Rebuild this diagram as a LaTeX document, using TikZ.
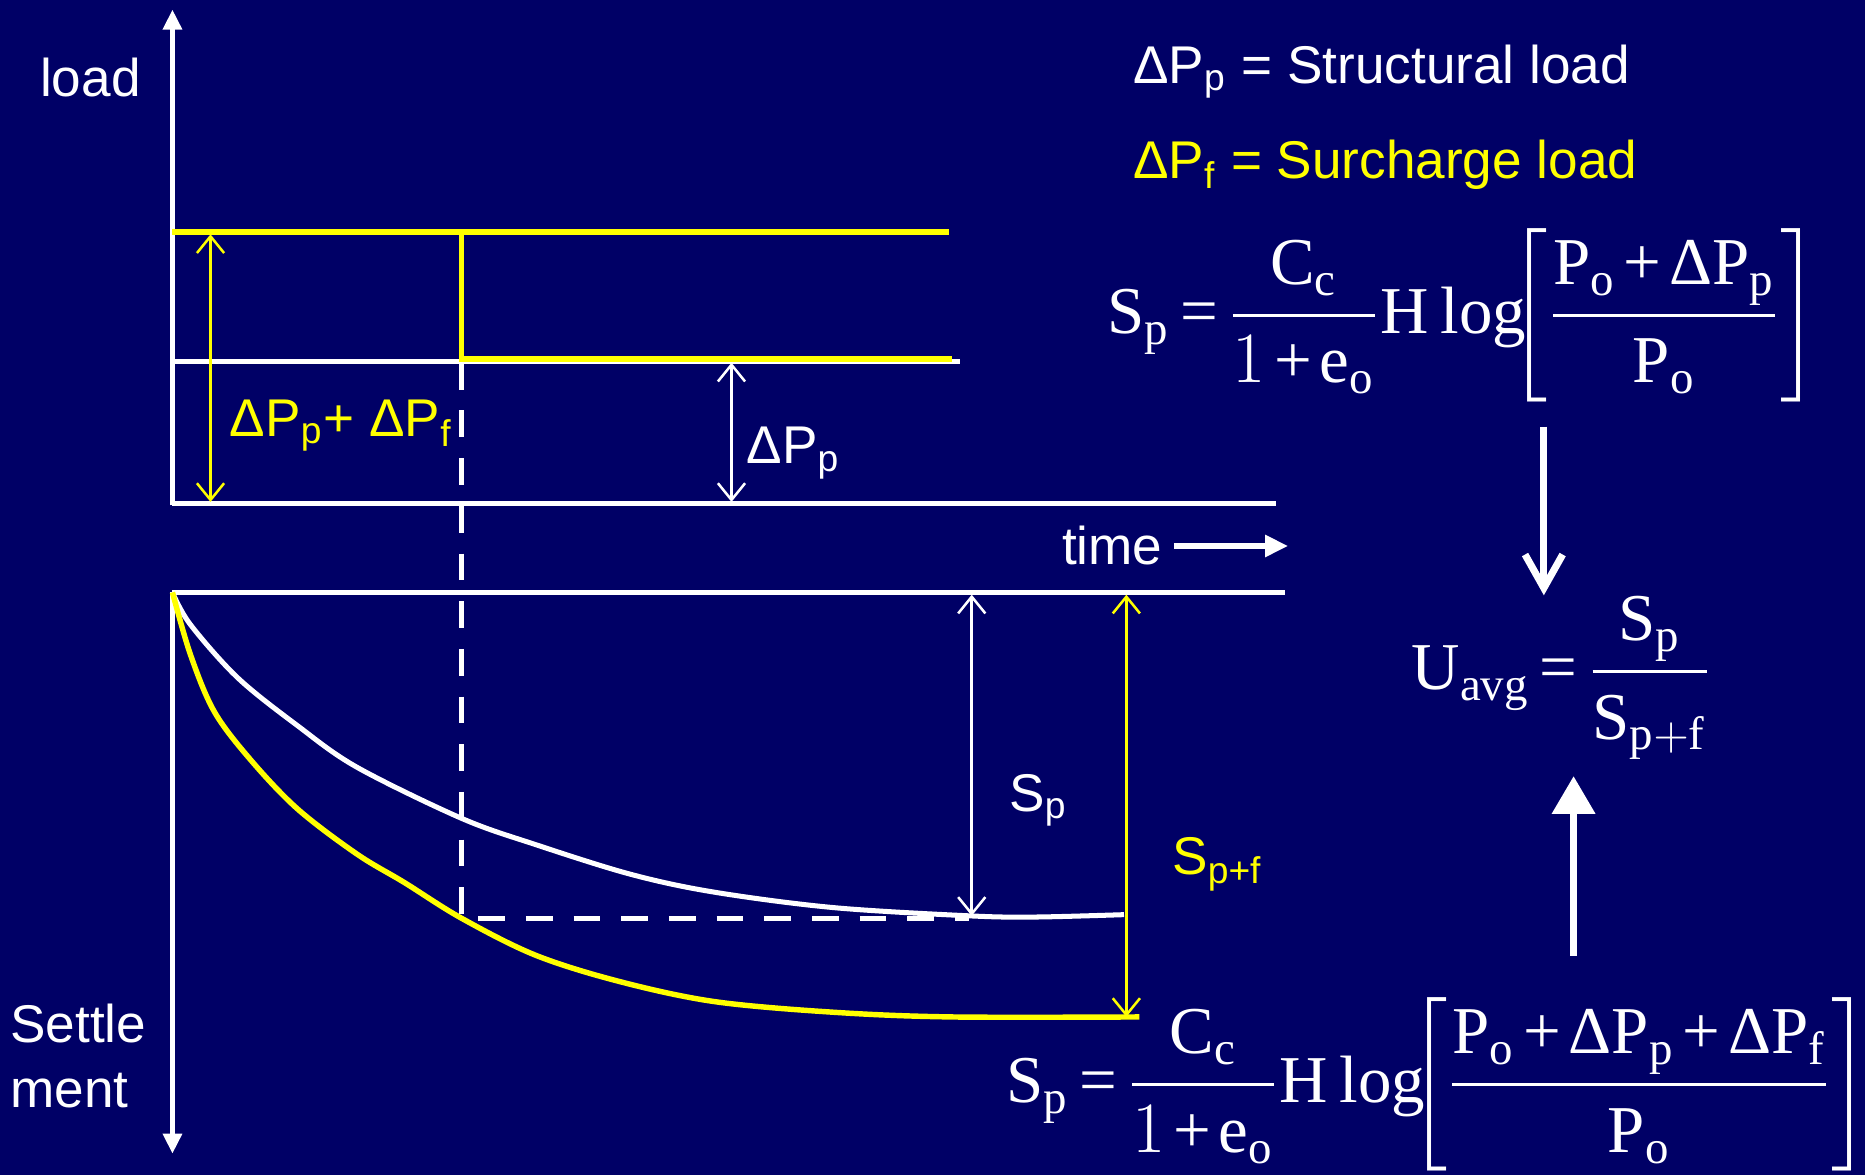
\documentclass[tikz,border=0pt]{standalone}
\usepackage{amsmath}
\usepackage{fontspec}
\setmainfont{Liberation Serif}
\setsansfont{Liberation Sans}
\usetikzlibrary{arrows.meta,positioning}
\definecolor{navy}{RGB}{0,0,102}
\definecolor{yel}{RGB}{255,255,0}
\tikzset{
  wline/.style={draw=white,line width=1.2pt},
  yline/.style={draw=yel,line width=1.3pt},
  axis/.style={wline,-{Triangle[length=4.8pt,width=4.4pt]}},
  dimarr/.style={line width=0.6pt,
    {Straight Barb[length=4pt,width=6.5pt]}-{Straight Barb[length=4pt,width=6.5pt]}},
  dashln/.style={wline,dash pattern=on 6.4pt off 5pt},
  % labels in Arial-like sans, formulas in Times-like serif
  lab/.style={font=\fontsize{12.7}{15.65}\selectfont\sffamily,text=white,inner sep=0pt},
  ylab/.style={lab,text=yel},
  eq/.style={font=\fontsize{16}{19}\selectfont,text=white,inner sep=0pt},
  timearr/.style={draw=white,line width=1.6pt,-{Triangle[length=5.5pt,width=5pt]}},
  downarr/.style={draw=white,line width=1.7pt,
    -{Straight Barb[length=8pt,width=9pt,line width=1.7pt]}},
  uparr/.style={draw=white,line width=1.7pt,-{Triangle[length=9pt,width=10pt]}}
}
\newcommand{\rs}[2]{\mathrm{#1}_{\mathrm{#2}}}
\newcommand{\dlt}{\text{Δ}}
\newcommand{\pl}{\mathbin{\text{+}}}
\newcommand{\eqs}{\mathrel{\text{=}}}
\newcommand{\tight}{\medmuskip=2mu\relax\thickmuskip=2.5mu\relax}

\begin{document}
\begin{tikzpicture}[x=0.01cm,y=-0.01cm]
  \fill[navy] (0,0) rectangle (1568,988);
  \useasboundingbox (0,0) rectangle (1568,988);

  % load vs time
  \draw[axis] (145,425) -- (145,8);
  \draw[wline] (145,423) -- (1073,423);
  \draw[wline] (145,304) -- (807,304);
  \draw[yline] (145,195) -- (798,195);
  \draw[yline] (388,195) -- (388,302) -- (800,302);
  \draw[dashln] (388,305) -- (388,772) -- (815,772);
  \draw[dimarr,yel] (177,197) -- (177,422);
  \draw[dimarr,white] (615,305) -- (615,422);

  \node[lab] (load) at (76,65) {load};
  \node[ylab] (sumlab) at (287,358) {ΔP$_\text{p}$+ ΔP$_\text{f}$};
  \node[lab,anchor=base west] (dplab) at (627,390) {ΔP$_\text{p}$};
  \node[lab,anchor=base east] (time) at (978,475) {time};
  \draw[timearr] (time.east) ++(9,0) -- ++(96,0);

  % settlement vs time
  \draw[wline] (145,498) -- (1080,498);
  \draw[axis] (145,498) -- (145,970);
  \draw[wline] plot[smooth,tension=0.55] coordinates {(145,498) (160,525) (200,570)
    (250,610) (300,645) (388,688) (450,710) (530,735) (600,750) (700,763)
    (815,770) (870,771) (945,769)};
  \draw[yline] plot[smooth,tension=0.55] coordinates {(145,498) (160,550) (180,598)
    (210,638) (250,680) (300,718) (340,742) (388,772) (450,803) (520,825)
    (600,842) (700,851) (800,855) (958,855)};
  \draw[dimarr,white] (817,500) -- (817,770);
  \draw[dimarr,yel] (947,500) -- (947,855);

  \node[lab,align=left,anchor=west] (settle) at (8,888) {Settle\\ment};
  \node[lab,anchor=base west] (splab) at (848,682) {S$_\text{p}$};
  \node[ylab,anchor=base west] (spflab) at (985,735) {S$_\text{p+f}$};

  % legend and formulas
  \node[lab,anchor=base west] (leg1) at (952,70) {ΔP$_\text{p}$ = Structural load};
  \node[ylab,anchor=base west] (leg2) at (952,150) {ΔP$_\text{f}$ = Surcharge load};

  \node[eq] (f1) at (1230,265) {$\tight\rs{S}{p} \eqs \dfrac{\rs{C}{c}}{1\pl\rs{e}{o}}\mathrm{H}\log\mkern-7mu
    \left[\dfrac{\rs{P}{o}\pl\dlt\rs{P}{p}}{\rs{P}{o}}\right]$};
  \node[eq] (uavg) at (1313,570) {$\tight\rs{U}{avg} \eqs \dfrac{\rs{S}{p}}{\rs{S}{p+f}}$};
  \node[eq] (f2) at (1209,912) {$\tight\rs{S}{p} \eqs \dfrac{\rs{C}{c}}{1\pl\rs{e}{o}}\mathrm{H}\log\mkern-7mu
    \left[\dfrac{\rs{P}{o}\pl\dlt\rs{P}{p}\pl\dlt\rs{P}{f}}{\rs{P}{o}}\right]$};

  \coordinate (dnx) at (1298,0);
  \coordinate (upx) at (1323,0);
  \draw[downarr,shorten <=0.2cm] (f1.south -| dnx) -- (uavg.north -| dnx);
  \draw[uparr,shorten <=0.35cm,shorten >=0.13cm] (f2.north -| upx) -- (uavg.south -| upx);
\end{tikzpicture}
\end{document}
